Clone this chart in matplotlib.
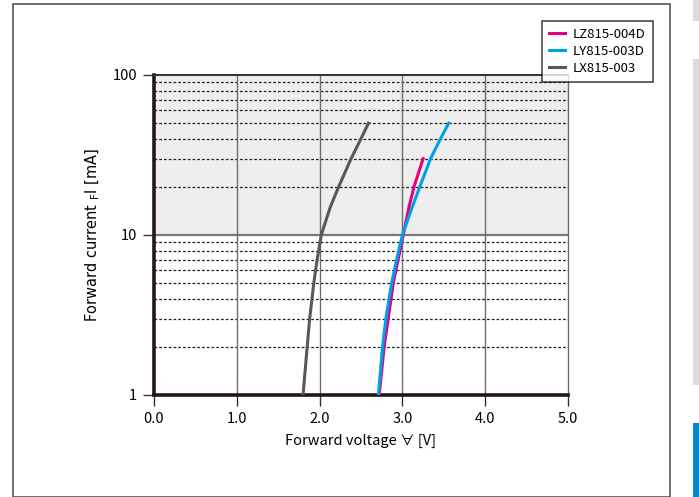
import matplotlib.pyplot as plt
from matplotlib.patches import Rectangle

# Forward voltage [V] vs forward current [mA]
lz_v = [2.72, 2.78, 2.89, 3.01, 3.08, 3.14, 3.25]
lz_i = [1, 2, 5, 10, 15, 20, 30]

ly_v = [2.71, 2.76, 2.80, 2.87, 2.93, 3.00, 3.12, 3.21, 3.34, 3.46, 3.56]
ly_i = [1, 2, 3, 5, 7, 10, 15, 20, 30, 40, 50]

lx_v = [1.80, 1.85, 1.88, 1.93, 1.97, 2.02, 2.13, 2.23, 2.38, 2.50, 2.59]
lx_i = [1, 2, 3, 5, 7, 10, 15, 20, 30, 40, 50]

labels = ['LZ815-004D', 'LY815-003D', 'LX815-003']
colors = ['#e4007f', '#00a0e9', '#595757']

x_ticks = [0, 1, 2, 3, 4, 5]
x_ticklabels = ['0.0', '1.0', '2.0', '3.0', '4.0', '5.0']
y_ticks = [1, 10, 100]
y_ticklabels = ['1', '10', '100']

W, H = 699, 497
fig = plt.figure(figsize=(W / 100, H / 100), dpi=100)
fig.patch.set_facecolor('white')

# page decorations around the chart
frame = Rectangle((13 / W, 0), (670 - 13) / W, 1 - 4 / H, transform=fig.transFigure,
                  facecolor='none', edgecolor='#555555', linewidth=1.2)
fig.add_artist(frame)
fig.add_artist(Rectangle((693 / W, 1 - 21 / H), 6 / W, 21 / H, transform=fig.transFigure,
                         facecolor='#dcdcdc', edgecolor='none'))
fig.add_artist(Rectangle((693 / W, 1 - 385 / H), 6 / W, (385 - 59) / H, transform=fig.transFigure,
                         facecolor='#dcdcdc', edgecolor='none'))
fig.add_artist(Rectangle((693 / W, 0), 6 / W, (497 - 423) / H, transform=fig.transFigure,
                         facecolor='#0088cc', edgecolor='none'))

ax = fig.add_axes([154 / W, 1 - 395 / H, (568 - 154) / W, (395 - 75) / H])
ax.set_yscale('log')
ax.set_xlim(0, 5)
ax.set_ylim(1, 100)

# shaded upper decade
ax.axhspan(10, 100, color='#eeeeee', zorder=0)

# minor dotted gridlines
for dec in [1, 10]:
    for m in range(2, 10):
        ax.axhline(dec * m, color='#222222', linewidth=0.9, linestyle=(0, (2.2, 1.6)), zorder=1)
ax.axhline(10, color='#7a7a7a', linewidth=1.6, zorder=1)
for v in [1, 2, 3, 4]:
    ax.axvline(v, color='#6e6e6e', linewidth=1.0, zorder=1)

ax.plot(lz_v, lz_i, color=colors[0], linewidth=2.2, label=labels[0], zorder=3)
ax.plot(ly_v, ly_i, color=colors[1], linewidth=2.2, label=labels[1], zorder=3)
ax.plot(lx_v, lx_i, color=colors[2], linewidth=2.2, label=labels[2], zorder=3)

ax.set_xticks(x_ticks)
ax.set_xticklabels(x_ticklabels, fontfamily='Noto Sans CJK JP', fontsize=10.5)
ax.set_yticks(y_ticks)
ax.set_yticklabels(y_ticklabels, fontfamily='Noto Sans CJK JP', fontsize=10.5)
ax.yaxis.set_minor_locator(plt.NullLocator())
ax.tick_params(axis='both', direction='out', length=8, width=1.0, color='#333333', pad=4)

for side in ['left', 'bottom']:
    ax.spines[side].set_linewidth(2.6)
    ax.spines[side].set_color('#231815')
ax.spines['top'].set_linewidth(1.4)
ax.spines['top'].set_color('#333333')
ax.spines['right'].set_linewidth(1.0)
ax.spines['right'].set_color('#6e6e6e')

ax.set_xlabel('Forward voltage ∀ [V]', fontfamily=['Noto Sans CJK JP', 'DejaVu Sans'],
              fontsize=10.5, labelpad=6)
ax.set_ylabel(r'Forward current $_{\mathrm{F}}$I [mA]', fontfamily='DejaVu Sans',
              fontsize=10.5, labelpad=8)

leg = fig.legend(loc='upper left', bbox_to_anchor=(535 / W, 1 - 14 / H),
                 frameon=True, fancybox=False, edgecolor='#231815', handlelength=1.2,
                 borderpad=0.55, labelspacing=0.3, handletextpad=0.6,
                 prop={'family': 'Noto Sans CJK JP', 'size': 9.5})
leg.get_frame().set_linewidth(1.2)

fig.savefig('out.png', dpi=100, facecolor='white')
